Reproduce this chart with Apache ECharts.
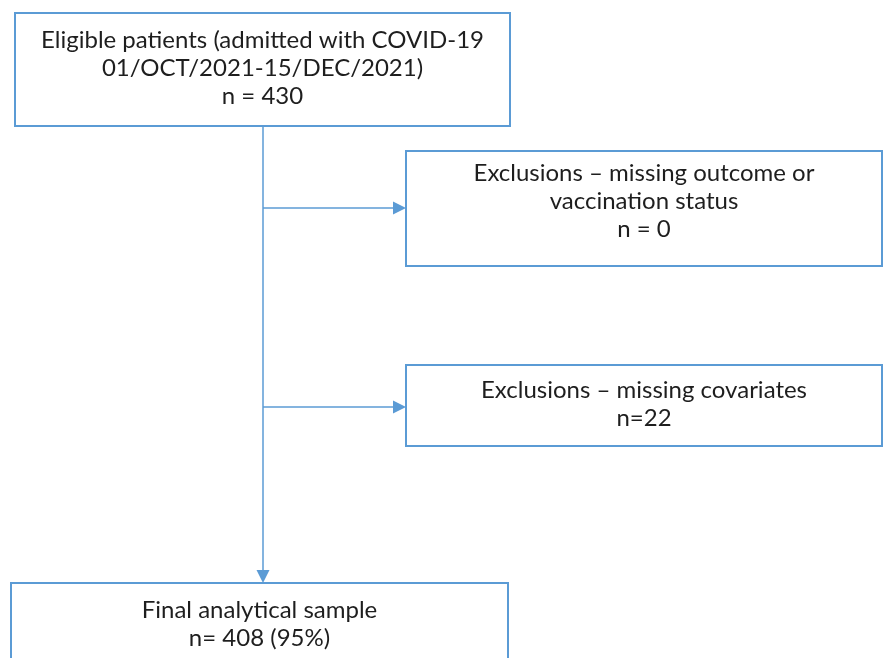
<!DOCTYPE html>
<html>
<head>
<meta charset="utf-8">
<script src="https://cdn.jsdelivr.net/npm/echarts@6/dist/echarts.min.js"></script>
<style>
  html, body { margin: 0; padding: 0; background: #fff; }
  #main { width: 884px; height: 658px; }
</style>
</head>
<body>
<div id="main"></div>
<script>
// flowchart content
var boxTitles = [
  'Eligible patients (admitted with COVID-19\n01/OCT/2021-15/DEC/2021)',
  'Exclusions \u2013 missing outcome or\nvaccination status',
  'Exclusions \u2013 missing covariates',
  'Final analytical sample'
];
var boxCounts = ['n = 430', 'n = 0', 'n=22', 'n= 408 (95%)'];

// layout of boxes in pixel units: x0, y0, x1, y1, text top
var boxLayout = [
  [15, 13, 510, 126, 26],
  [406, 151, 882, 266, 159],
  [406, 365, 882, 446, 376],
  [11, 583, 508, 700, 596]
];
// connectors: from -> to (arrow at end)
var links = [
  [[263, 126], [263, 583]],
  [[263, 208], [406, 208]],
  [[263, 407], [406, 407]]
];

var blue = '#5b9bd5';
var chartDom = document.getElementById('main');
var myChart = echarts.init(chartDom);

var boxData = boxLayout.map(function (b, i) {
  return [b[0], b[1], b[2], b[3], b[4], i];
});
var linkData = links.map(function (l) {
  return [l[0][0], l[0][1], l[1][0], l[1][1]];
});

var option = {
  animation: false,
  grid: { left: 0, right: 0, top: 0, bottom: 0 },
  xAxis: { type: 'value', min: 0, max: 884, show: false },
  yAxis: { type: 'value', min: 0, max: 658, inverse: true, show: false },
  series: [
    {
      type: 'custom',
      data: linkData,
      renderItem: function (params, api) {
        var a = api.coord([api.value(0), api.value(1)]);
        var b = api.coord([api.value(2), api.value(3)]);
        var dx = b[0] - a[0], dy = b[1] - a[1];
        var len = Math.sqrt(dx * dx + dy * dy);
        var ux = dx / len, uy = dy / len;
        var headL = 13, headW = 6.5;
        var bx = b[0] - ux * headL, by = b[1] - uy * headL;
        return {
          type: 'group',
          children: [
            {
              type: 'line',
              shape: { x1: a[0], y1: a[1], x2: bx, y2: by },
              style: { stroke: blue, lineWidth: 1.5 }
            },
            {
              type: 'polygon',
              shape: {
                points: [
                  [b[0], b[1]],
                  [bx - uy * headW, by + ux * headW],
                  [bx + uy * headW, by - ux * headW]
                ]
              },
              style: { fill: blue }
            }
          ]
        };
      }
    },
    {
      type: 'custom',
      data: boxData,
      renderItem: function (params, api) {
        var p0 = api.coord([api.value(0), api.value(1)]);
        var p1 = api.coord([api.value(2), api.value(3)]);
        var ty = api.coord([0, api.value(4)])[1];
        var idx = api.value(5);
        return {
          type: 'group',
          children: [
            {
              type: 'rect',
              shape: { x: p0[0], y: p0[1], width: p1[0] - p0[0], height: p1[1] - p0[1] },
              style: { fill: '#fff', stroke: blue, lineWidth: 2 }
            },
            {
              type: 'text',
              style: {
                text: boxTitles[idx] + '\n' + boxCounts[idx],
                x: (p0[0] + p1[0]) / 2,
                y: ty,
                align: 'center',
                verticalAlign: 'top',
                fontFamily: 'Lato',
                fontSize: 24,
                lineHeight: 28,
                fill: '#1e1e1e'
              }
            }
          ]
        };
      }
    }
  ]
};

option && myChart.setOption(option);
</script>
</body>
</html>
